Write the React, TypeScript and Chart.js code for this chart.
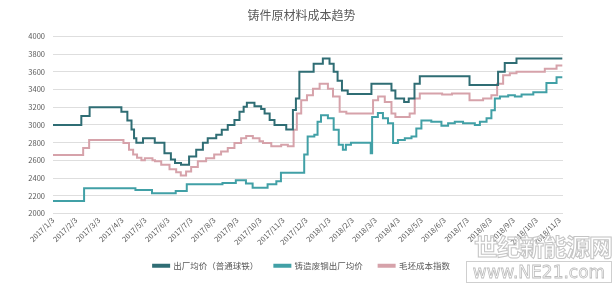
import React, { useEffect, useRef } from "react";
import { Chart, registerables } from "chart.js";

Chart.register(...registerables);

const title = "铸件原材料成本趋势";

const tickLabels = [
  "2017/1/3", "2017/2/3", "2017/3/3", "2017/4/3", "2017/5/3", "2017/6/3",
  "2017/7/3", "2017/8/3", "2017/9/3", "2017/10/3", "2017/11/3", "2017/12/3",
  "2018/1/3", "2018/2/3", "2018/3/3", "2018/4/3", "2018/5/3", "2018/6/3",
  "2018/7/3", "2018/8/3", "2018/9/3", "2018/10/3", "2018/11/3",
];

// x positions are months elapsed since 2017/1/3 (value holds until next change)
const ironName = "出厂均价（普通球铁）";
const ironX = [0, 1.23, 1.59, 2.97, 3.23, 3.41, 3.52, 3.62, 3.91, 4.42, 4.84, 5.12, 5.3, 5.56, 5.91, 6.22, 6.51, 6.72, 7.09, 7.33, 7.59, 7.88, 8.1, 8.28, 8.42, 8.75, 9.04, 9.19, 9.41, 9.62, 10.13, 10.42, 10.55, 10.7, 11.32, 11.72, 12.01, 12.19, 12.36, 12.55, 12.8, 13.83, 14.7, 14.87, 15.25, 15.45, 15.7, 15.93, 18.09, 19.33, 19.62, 20.13, 22.12];
const ironY = [3000, 3100, 3200, 3150, 3050, 2950, 2850, 2800, 2850, 2800, 2680, 2610, 2570, 2550, 2645, 2720, 2800, 2850, 2890, 2945, 3000, 3055, 3150, 3205, 3250, 3210, 3180, 3130, 3055, 3000, 2950, 3170, 3300, 3600, 3690, 3750, 3690, 3600, 3500, 3390, 3350, 3465, 3390, 3300, 3260, 3300, 3465, 3550, 3450, 3600, 3700, 3750, 3750];

const scrapName = "铸造废钢出厂均价";
const scrapX = [0, 1.35, 3.58, 4.3, 5.33, 5.81, 7.36, 7.94, 8.38, 8.67, 9.32, 9.7, 9.9, 10.91, 11.06, 11.35, 11.49, 11.64, 11.94, 12.19, 12.41, 12.59, 12.72, 12.94, 13.8, 13.86, 14.11, 14.33, 14.55, 14.77, 14.98, 15.28, 15.57, 15.78, 16.0, 16.43, 16.87, 17.16, 17.45, 17.81, 18.1, 18.32, 18.54, 18.83, 19.04, 19.19, 19.41, 19.77, 20.06, 20.35, 20.86, 21.43, 21.87, 22.12];
const scrapY = [2140, 2285, 2265, 2230, 2255, 2330, 2345, 2375, 2340, 2290, 2330, 2365, 2460, 2665, 2870, 2890, 3035, 3110, 3075, 2945, 2775, 2720, 2775, 2800, 2680, 3090, 3135, 3075, 3020, 2795, 2830, 2850, 2870, 2960, 3050, 3035, 2990, 3020, 3035, 3020, 3020, 3000, 3035, 3075, 3165, 3300, 3320, 3335, 3320, 3345, 3370, 3475, 3540, 3540];

const blankName = "毛坯成本指数";
const blankX = [0, 1.31, 1.57, 3.06, 3.3, 3.48, 3.65, 3.84, 3.99, 4.32, 4.43, 4.7, 5.06, 5.35, 5.55, 5.78, 6.0, 6.29, 6.65, 7.0, 7.3, 7.59, 7.88, 8.17, 8.39, 8.68, 8.97, 9.12, 9.48, 9.91, 10.2, 10.45, 10.59, 10.78, 11.03, 11.29, 11.58, 11.94, 12.16, 12.45, 12.74, 13.9, 14.12, 14.41, 14.7, 14.87, 15.49, 15.71, 15.93, 16.9, 17.33, 18.09, 18.68, 19.04, 19.29, 19.55, 19.84, 20.13, 21.36, 21.87, 22.12];
const blankY = [2660, 2740, 2830, 2795, 2720, 2665, 2630, 2600, 2625, 2600, 2590, 2550, 2500, 2465, 2430, 2475, 2525, 2590, 2625, 2665, 2700, 2740, 2795, 2850, 2875, 2850, 2815, 2795, 2760, 2775, 2760, 2945, 3130, 3280, 3335, 3410, 3465, 3410, 3320, 3150, 3130, 3280, 3320, 3260, 3130, 3090, 3130, 3300, 3355, 3345, 3355, 3280, 3300, 3335, 3465, 3560, 3585, 3600, 3635, 3670, 3670];

const yTicks = [2000, 2200, 2400, 2600, 2800, 3000, 3200, 3400, 3600, 3800, 4000];

const textColor = "#595959";
const fontFamily = "'Noto Sans CJK SC', 'Noto Sans', sans-serif";

const pts = (xs: number[], ys: number[]) => xs.map((x, i) => ({ x, y: ys[i] }));

export default function App() {
  const ref = useRef<HTMLCanvasElement | null>(null);

  useEffect(() => {
    document.body.style.margin = "0";
    const ctx = ref.current;
    if (!ctx) return;
    const mk = (label: string, xs: number[], ys: number[], color: string) => ({
      label,
      data: pts(xs, ys),
      borderColor: color,
      backgroundColor: color,
      borderWidth: 2,
      pointRadius: 0,
      stepped: true as const,
      fill: false,
      yAxisID: "y",
    });
    const chart = new Chart(ctx, {
      type: "line",
      data: {
        datasets: [
          mk(ironName, ironX, ironY, "#2F6D74"),
          mk(scrapName, scrapX, scrapY, "#41A0A6"),
          mk(blankName, blankX, blankY, "#D6A2AA"),
        ],
      },
      options: {
        animation: false,
        responsive: false,
        layout: { padding: { left: 20, right: 33, top: 0, bottom: 6 } },
        plugins: {
          title: {
            display: true,
            text: title,
            color: textColor,
            font: { family: fontFamily, size: 12, weight: "normal" },
            padding: { top: 8, bottom: 14 },
          },
          legend: {
            position: "bottom",
            labels: {
              boxWidth: 16,
              boxHeight: 2,
              color: textColor,
              padding: 16,
              font: { family: fontFamily, size: 8.5 },
            },
          },
          tooltip: { enabled: false },
        },
        scales: {
          x: {
            type: "linear",
            min: 0,
            max: 22.15,
            afterBuildTicks: (axis: any) => {
              axis.ticks = tickLabels.map((_, i) => ({ value: i }));
            },
            afterFit: (scale: any) => {
              scale.height = 32;
            },
            ticks: {
              autoSkip: false,
              maxRotation: 45,
              minRotation: 45,
              padding: 2,
              color: textColor,
              font: { family: fontFamily, size: 7.5 },
              callback: (_v: any, i: number) => tickLabels[i],
            },
            grid: { display: false, drawTicks: false },
            border: { display: false },
          },
          y: {
            min: 2000,
            max: 4000,
            afterBuildTicks: (axis: any) => {
              axis.ticks = yTicks.map((v) => ({ value: v }));
            },
            afterFit: (scale: any) => {
              scale.width = 33;
            },
            ticks: {
              color: textColor,
              padding: 8,
              font: { family: fontFamily, size: 7.5 },
              callback: (v: any) => String(v),
            },
            grid: { color: "#DEDEDE", drawTicks: false, lineWidth: 1 },
            border: { display: false },
          },
          y2: {
            position: "right",
            min: 2000,
            max: 4000,
            afterFit: (scale: any) => {
              scale.width = 20;
            },
            ticks: { display: false },
            grid: { display: false, drawTicks: false },
            border: { display: false },
          },
        },
      },
    } as any);
    return () => chart.destroy();
  }, []);

  return (
    <div style={{ position: "fixed", left: 0, top: 0, width: 616, height: 286, background: "#fff" }}>
      <canvas ref={ref} width={616} height={286} style={{ display: "block" }} />
      <div
        style={{
          position: "absolute",
          left: 474,
          top: 231,
          fontFamily,
          fontSize: 24,
          lineHeight: "30px",
          letterSpacing: -1,
          color: "rgba(255,255,255,0.6)",
          WebkitTextStroke: "1px #C4C4C4",
          fontWeight: 700,
          whiteSpace: "nowrap",
        }}
      >
        世纪新能源网
      </div>
      <div
        style={{
          position: "absolute",
          left: 466,
          top: 261,
          width: 146,
          height: 22,
          boxSizing: "border-box",
          border: "1px solid #CFCFCF",
          fontFamily: "'DejaVu Sans', sans-serif",
          fontSize: 17,
          lineHeight: "20px",
          textAlign: "center",
          color: "#fff",
          WebkitTextStroke: "0.8px #BDBDBD",
          whiteSpace: "nowrap",
          background: "rgba(255,255,255,0.7)",
        }}
      >
        www.NE21.com
      </div>
    </div>
  );
}
